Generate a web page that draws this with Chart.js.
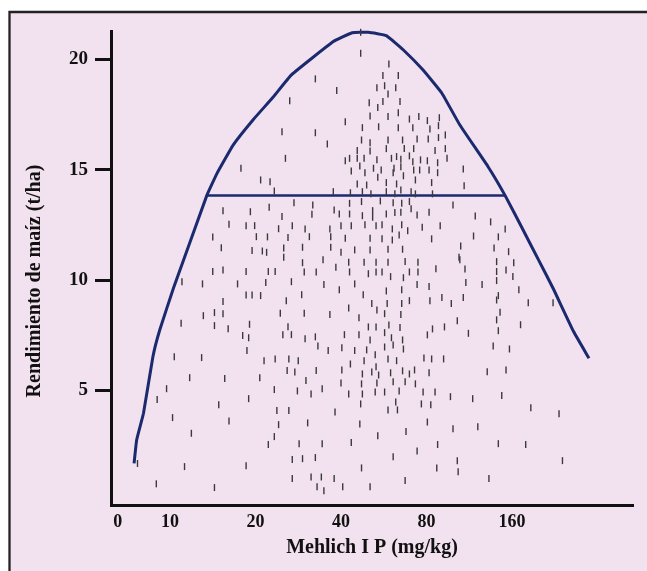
<!DOCTYPE html>
<html>
<head>
<meta charset="utf-8">
<title>Rendimiento de maíz vs Mehlich I P</title>
<script src="https://cdn.jsdelivr.net/npm/chart.js@4.4.1/dist/chart.umd.min.js"></script>
<style>
  html, body { margin: 0; padding: 0; background: #fff; }
  canvas { display: block; }
</style>
</head>
<body>
<canvas id="myChart" width="647" height="571"></canvas>
<script>
// x values are positions along the Mehlich-P axis (1 = 10, 2 = 20, 3 = 40, 4 = 80, 5 = 160 mg/kg)
const xTickPos = [0.39, 1, 2, 3, 4, 5];
const xTickLabels = ['0', '10', '20', '40', '80', '160'];
const yTicks = [5, 10, 15, 20];

// individual observations [P position, yield t/ha]
const obs = [
  [1.83,15.07],[2.06,14.54],[2.17,14.46],[2.22,14.04],[2.31,16.73],[2.35,15.52],[2.40,18.13],
  [1.62,13.15],[1.94,13.10],[2.16,13.30],[2.31,12.88],[1.69,12.53],[1.89,12.47],[1.99,12.47],[2.27,12.33],
  [1.50,11.96],[2.01,11.97],[2.14,11.96],[2.38,11.93],[1.60,11.47],[1.96,11.34],[2.08,11.32],[2.13,11.26],[2.33,11.46],[2.33,11.04],
  [1.50,10.39],[1.62,10.46],[1.89,10.39],[2.15,10.39],[2.23,10.39],[1.14,9.93],[1.38,9.83],[1.79,9.83],[2.12,9.89],
  [1.89,9.33],[1.96,9.33],[2.06,9.30],[2.36,9.07],[1.62,9.03],[1.39,8.39],[1.52,8.53],[1.62,8.48],[2.29,8.50],
  [1.13,8.05],[1.52,7.94],[1.68,7.80],[1.93,8.00],[2.38,7.89],[1.85,7.49],[1.92,7.39],[2.32,7.52],[1.90,6.81],
  [1.05,6.53],[1.37,6.49],[2.10,6.35],[2.23,6.43],[2.39,6.43],[2.37,5.90],[1.23,5.58],[1.64,5.54],[2.05,5.58],
  [0.96,5.08],[2.22,5.04],[0.85,4.59],[1.92,4.63],[1.57,4.35],[2.25,4.09],[2.39,4.09],[1.03,3.77],[1.69,3.62],[2.27,3.45],
  [1.25,3.06],[2.22,2.91],[2.15,2.55],[0.62,1.69],[1.17,1.55],[1.89,1.59],[0.84,0.77],[1.52,0.60],
  [2.55,10.79],[2.79,10.92],[3.09,10.81],[3.27,10.81],[3.41,10.81],[3.55,10.81],[3.75,10.84],[3.90,10.81],[2.94,10.58],[4.11,10.52],
  [2.57,10.37],[2.71,10.37],[3.10,10.37],[3.32,10.29],[3.41,10.37],[3.48,10.37],[3.58,10.16],[3.73,10.11],[3.80,10.37],[3.90,10.37],
  [2.42,9.93],[2.80,9.80],[3.16,9.83],[3.89,9.80],[4.03,9.71],[2.98,9.56],[3.53,9.51],[3.71,9.56],[2.54,9.34],[3.26,9.34],
  [3.09,8.74],[3.36,8.94],[3.54,8.94],[3.71,8.94],[3.80,9.07],[4.04,9.07],[4.18,9.21],[4.29,8.94],[3.42,8.65],
  [2.57,8.50],[2.87,8.44],[3.51,8.48],[3.70,8.44],[3.21,8.30],[4.36,8.16],
  [3.32,7.88],[3.41,7.88],[3.56,7.97],[3.69,7.85],[4.07,7.79],[4.21,7.88],
  [2.42,7.53],[3.04,7.53],[3.21,7.53],[3.51,7.62],[4.01,7.52],[2.58,7.34],[2.70,7.43],[3.34,7.29],[3.59,7.39],[3.72,7.29],
  [2.73,7.02],[3.01,6.94],[3.30,6.84],[3.51,6.97],[3.61,7.06],[3.73,6.88],[2.85,6.81],[3.16,6.81],[3.40,6.62],
  [2.50,6.35],[3.27,6.35],[3.55,6.43],[3.65,6.35],[3.97,6.47],[4.06,6.43],[4.20,6.43],[3.11,6.20],[3.41,6.08],
  [2.46,5.84],[2.71,5.90],[3.01,5.93],[3.25,5.75],[3.36,5.84],[3.44,5.70],[3.58,5.80],[3.72,5.89],[3.80,5.75],[3.86,5.93],[4.03,5.80],
  [2.59,5.45],[3.00,5.34],[3.24,5.30],[3.42,5.34],[3.61,5.39],[3.75,5.39],[3.87,5.30],
  [2.49,4.98],[2.65,4.84],[2.78,5.08],[3.09,4.84],[3.25,4.84],[3.40,4.93],[3.51,4.93],[3.68,4.98],[3.96,4.93],[4.10,4.93],[4.28,4.72],
  [3.64,4.48],[3.23,4.39],[3.94,4.39],[4.05,4.35],[2.93,4.03],[3.55,4.12],[3.66,4.12],
  [2.61,3.53],[3.22,3.48],[4.01,3.57],[3.43,2.95],[3.76,3.14],[4.31,3.26],
  [2.51,2.59],[2.78,2.59],[3.12,2.64],[4.13,2.55],[3.89,2.26],
  [2.43,1.87],[2.55,1.91],[2.70,1.96],[3.61,2.00],[4.36,1.82],[3.24,1.49],[4.12,1.49],[4.37,1.32],
  [2.43,1.01],[2.65,1.08],[2.77,1.08],[2.92,1.01],[3.75,0.92],[2.72,0.64],[2.80,0.46],[3.02,0.64],[3.34,0.64],
  [4.39,10.92],[4.82,10.84],[5.02,10.79],[4.45,10.51],[4.82,10.39],[4.93,10.46],[5.01,10.16],[4.46,9.89],[4.65,9.80],[4.82,9.98],[5.08,9.56],
  [4.43,9.21],[4.84,9.30],[4.82,9.10],[5.19,8.98],[5.48,8.98],[4.86,8.55],[4.82,8.20],[5.10,7.98],[4.49,7.59],[4.84,7.71],
  [4.78,7.02],[4.97,6.88],[4.71,5.85],[4.93,5.93],[4.54,4.63],[4.88,4.77],[5.22,4.22],[5.55,3.95],[4.60,3.36],[4.84,2.59],[5.16,2.55],[5.59,1.82],[4.73,1.01],
  [4.43,15.04],[4.44,14.28],[4.57,12.91],[4.75,12.64],[4.92,12.32],[4.55,12.00],[4.84,11.96],[4.40,11.55],[4.79,11.46],[4.96,11.29],[4.38,11.04],
  [3.23,21.23],[3.23,20.28],[3.56,19.80],[2.70,19.12],[3.49,19.27],[3.67,19.27],[2.95,18.59],[3.42,18.72],[3.51,18.81],[3.64,18.72],[3.55,18.44],
  [3.33,18.04],[3.49,18.09],[3.69,18.09],[3.43,17.82],[3.67,17.59],[3.34,17.44],[3.05,17.18],[3.55,17.41],[3.80,17.30],[3.91,17.41],[4.01,17.23],[4.15,17.36],
  [2.70,16.68],[3.25,16.91],[3.44,16.95],[3.67,16.91],[3.84,16.91],[4.04,16.85],[4.14,17.00],
  [3.24,16.35],[3.34,16.23],[3.55,16.35],[3.72,16.35],[3.89,16.40],[4.02,16.40],[4.14,16.46],[4.22,16.58],[2.84,16.17],
  [3.19,15.87],[3.34,15.85],[3.53,15.96],[3.74,15.96],[3.85,15.96],[4.10,15.87],[4.22,15.96],
  [3.05,15.41],[3.10,15.52],[3.19,15.52],[3.27,15.52],[3.42,15.46],[3.59,15.52],[3.65,15.60],[3.70,15.48],[3.80,15.63],[3.84,15.37],[3.93,15.45],[4.01,15.41],[4.13,15.32],[4.24,15.52],
  [3.22,15.17],[3.38,15.07],[3.47,14.99],[3.62,15.07],[3.70,15.14],[3.85,14.99],[3.92,14.99],[4.03,14.99],[4.13,14.87],
  [3.12,14.95],[3.28,14.87],[3.43,14.66],[3.61,14.87],[3.73,14.73],[3.87,14.54],[4.06,14.42],[3.19,14.36],[3.30,14.31],[3.53,14.42],[3.65,14.36],
  [2.91,14.01],[3.11,13.96],[3.25,14.01],[3.35,13.91],[3.53,14.01],[3.63,13.91],[3.70,14.09],[3.82,14.01],[3.87,13.91],[4.07,13.91],
  [3.24,13.56],[3.46,13.59],[3.61,13.51],[3.71,13.48],[2.45,13.51],[2.67,13.41],[3.10,13.48],[3.80,13.56],[4.31,13.41],
  [2.92,13.18],[2.98,13.00],[2.66,12.99],[3.10,13.00],[3.25,12.92],[3.37,13.15],[3.37,12.85],[3.53,13.00],[3.63,13.06],[3.70,13.08],[3.82,13.23],[3.89,12.95],[4.03,13.08],
  [2.43,12.46],[2.58,12.32],[2.87,12.32],[3.00,12.46],[3.12,12.46],[3.28,12.51],[3.41,12.46],[3.48,12.51],[3.60,12.32],[3.71,12.51],[3.78,12.24],[3.95,12.40],[4.16,12.46],
  [2.63,11.97],[2.88,11.97],[3.05,11.90],[3.34,11.90],[3.48,11.87],[3.60,11.82],[3.68,12.05],[4.06,11.87],
  [2.55,11.49],[2.88,11.49],[3.16,11.37],[3.34,11.37],[3.55,11.40],[3.72,11.40],[3.00,11.26]
];

// upper envelope (boundary line)
const envX = [0.58, 0.61, 0.69, 0.80, 0.88, 1.04, 1.16, 1.43, 1.55, 1.74, 1.97, 2.21, 2.42, 2.91, 3.13, 3.32, 3.53, 3.73, 3.96, 4.18, 4.39, 4.72, 4.92, 5.13, 5.31, 5.48, 5.72, 5.90];
const envY = [1.70, 2.76, 3.97, 6.53, 7.74, 9.63, 10.92, 13.83, 14.84, 16.13, 17.26, 18.31, 19.30, 20.81, 21.21, 21.23, 21.08, 20.43, 19.52, 18.47, 17.03, 15.14, 13.83, 12.27, 10.92, 9.63, 7.67, 6.46];

// horizontal line across the envelope
const critX = [1.43, 4.92];
const critY = 13.83;

const PINK = '#f2e1ee';
const NAVY = '#1b2a6e';
const INK = '#111111';
const serif = "'Liberation Serif', 'Times New Roman', serif";

const framePlugin = {
  id: 'frame',
  beforeDraw(chart) {
    const c = chart.ctx;
    c.save();
    c.fillStyle = '#ffffff';
    c.fillRect(0, 0, chart.width, chart.height);
    c.fillStyle = PINK;
    c.fillRect(9, 11, chart.width - 9, chart.height - 11);
    c.strokeStyle = '#222';
    c.lineWidth = 2.3;
    c.beginPath();
    c.moveTo(9.5, chart.height);
    c.lineTo(9.5, 12);
    c.lineTo(chart.width, 12);
    c.stroke();
    c.restore();
  },
  afterDraw(chart) {
    // y axis title, placed like the original figure
    const c = chart.ctx;
    c.save();
    c.translate(35, 281);
    c.rotate(-Math.PI / 2);
    c.fillStyle = INK;
    c.font = "bold 20px " + serif;
    c.textAlign = 'center';
    c.textBaseline = 'middle';
    c.fillText('Rendimiento de maíz (t/ha)', 0, 0);
    c.restore();
  }
};

const ctx = document.getElementById('myChart').getContext('2d');
const myChart = new Chart(ctx, {
  type: 'scatter',
  data: {
    datasets: [{
      label: 'Observaciones',
      data: obs.map(([x, y]) => ({ x, y })),
      pointStyle: 'line',
      rotation: 90,
      radius: 3.5,
      borderColor: '#3a3a3a',
      backgroundColor: '#3a3a3a',
      borderWidth: 1.4,
      clip: false
    }, {
      label: 'Envolvente',
      data: envX.map((x, i) => ({ x, y: envY[i] })),
      showLine: true,
      borderColor: NAVY,
      borderWidth: 3,
      pointRadius: 0,
      tension: 0.1,
      clip: false
    }, {
      label: 'Nivel',
      data: critX.map(x => ({ x, y: critY })),
      showLine: true,
      borderColor: NAVY,
      borderWidth: 2.5,
      pointRadius: 0
    }]
  },
  options: {
    responsive: false,
    animation: false,
    devicePixelRatio: 1,
    layout: { padding: { top: 31, right: 14, bottom: 0, left: 0 } },
    plugins: { legend: { display: false }, tooltip: { enabled: false } },
    scales: {
      x: {
        type: 'linear',
        min: 0.31,
        max: 6.415,
        afterBuildTicks: s => { s.ticks = xTickPos.map(v => ({ value: v })); },
        afterFit: s => { s.height = 66; },
        grid: { display: false, drawTicks: false },
        border: { display: true, color: INK, width: 3 },
        ticks: {
          color: INK, padding: 7, autoSkip: false, maxRotation: 0,
          font: { family: serif, size: 18, weight: 'bold' },
          callback: (v, i) => xTickLabels[i]
        },
        title: {
          display: true, text: 'Mehlich I P (mg/kg)', color: INK,
          font: { family: serif, size: 20, weight: 'bold' },
          padding: { top: 0, bottom: 11 }
        }
      },
      y: {
        type: 'linear',
        min: -0.19,
        max: 21.29,
        afterBuildTicks: s => { s.ticks = yTicks.map(v => ({ value: v })); },
        afterFit: s => { s.width = 111; },
        grid: { drawOnChartArea: false, drawTicks: true, tickLength: 16, tickWidth: 3, tickColor: INK },
        border: { display: true, color: INK, width: 3 },
        ticks: {
          color: INK, padding: 7,
          font: { family: serif, size: 19, weight: 'bold' }
        }
      }
    }
  },
  plugins: [framePlugin]
});
</script>
</body>
</html>
